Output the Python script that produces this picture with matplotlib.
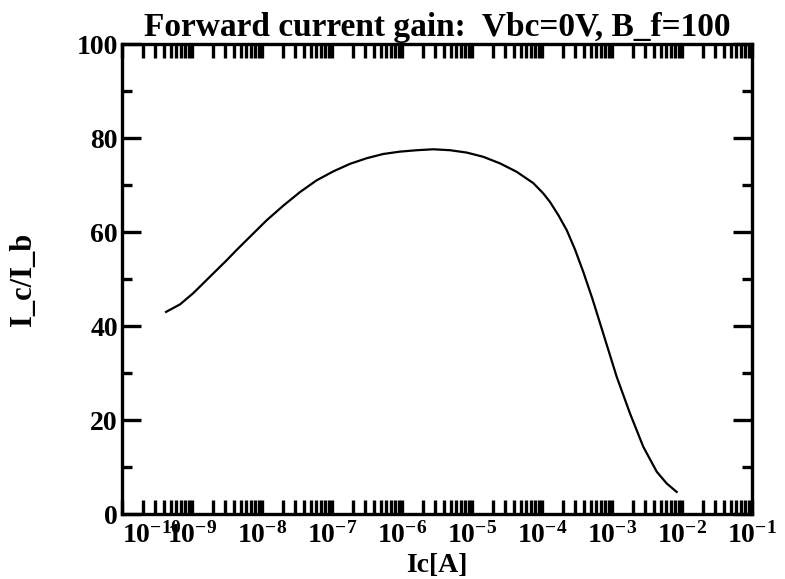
import numpy as np
import matplotlib
matplotlib.use("Agg")
import matplotlib.pyplot as plt
from matplotlib.ticker import FixedLocator, LogLocator, MultipleLocator, FuncFormatter, NullFormatter

plt.rcParams['font.family'] = 'Liberation Serif'
plt.rcParams['font.weight'] = 'bold'
plt.rcParams['mathtext.fontset'] = 'custom'
plt.rcParams['mathtext.rm'] = 'Liberation Serif:bold'
plt.rcParams['mathtext.bf'] = 'Liberation Serif:bold'
plt.rcParams['mathtext.it'] = 'Liberation Serif:bold'

# Collector current (log10 of A) and current gain
log_ic = [-9.371, -9.171, -8.981, -8.743, -8.504, -8.361, -8.171, -7.933, -7.696,
          -7.457, -7.219, -6.981, -6.743, -6.504, -6.267, -6.029, -5.790, -5.553,
          -5.314, -5.076, -4.839, -4.600, -4.361, -4.124, -3.981, -3.886, -3.767,
          -3.647, -3.529, -3.410, -3.280, -3.171, -3.050, -2.933, -2.743, -2.553,
          -2.361, -2.219, -2.076]
gain = [43.0, 44.6, 47.0, 50.5, 54.0, 56.2, 59.0, 62.5, 65.6,
        68.5, 71.0, 72.9, 74.5, 75.7, 76.6, 77.1, 77.4, 77.6,
        77.4, 76.9, 76.0, 74.6, 72.8, 70.4, 68.2, 66.4, 63.6,
        60.4, 56.3, 51.5, 45.8, 40.6, 34.8, 29.2, 21.4, 14.3,
        9.0, 6.5, 4.7]
ic = [10.0 ** v for v in log_ic]

x_decades = list(range(-10, 0))

fig = plt.figure(figsize=(7.85, 5.79), dpi=100)
ax = fig.add_axes([122 / 785, 1 - 514 / 579, 630 / 785, 470 / 579])

ax.plot(ic, gain, color='black', lw=1.6)

ax.set_xscale('log')
ax.set_xlim(1e-10, 1e-1)
ax.set_ylim(0, 100)

ax.xaxis.set_major_locator(FixedLocator([10.0 ** d for d in x_decades]))
ax.xaxis.set_major_formatter(FuncFormatter(lambda v, p: r'$\mathbf{10^{%d}}$' % round(np.log10(v))))
ax.xaxis.set_minor_locator(LogLocator(base=10, subs=np.arange(2, 10), numticks=100))
ax.xaxis.set_minor_formatter(NullFormatter())
ax.yaxis.set_major_locator(MultipleLocator(20))
ax.yaxis.set_minor_locator(MultipleLocator(10))

ax.tick_params(axis='x', which='both', direction='in', top=True, bottom=True,
               length=10, width=2.4, labelsize=20, pad=6)
ax.tick_params(axis='y', which='major', direction='in', left=True, right=True,
               length=14, width=2.4, labelsize=20, pad=3)
ax.tick_params(axis='y', which='minor', direction='in', left=True, right=True,
               length=7, width=2.4)
for lab in ax.get_yticklabels():
    lab.set_fontweight('bold')

fig.canvas.draw()
xl = ax.get_xticklabels()
xl[0].set_horizontalalignment('left')

for s in ax.spines.values():
    s.set_linewidth(2.4)

ax.set_title('Forward current gain:  Vbc=0V, B_f=100', fontsize=24,
             fontweight='bold', pad=6)
ax.set_xlabel('Ic[A]', fontsize=20, fontweight='bold', labelpad=3)
ax.set_ylabel('I_c/I_b', fontsize=22, fontweight='bold', labelpad=28)

fig.savefig('out.png', dpi=100)
